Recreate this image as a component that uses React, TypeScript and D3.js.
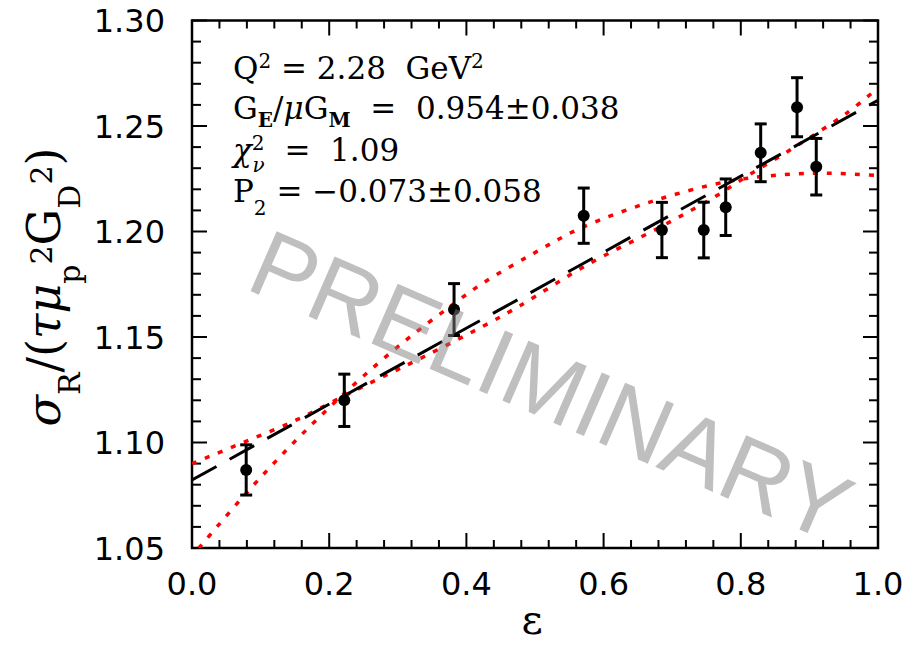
import React from "react"
import * as d3 from "d3"

// measured points (epsilon, reduced cross section, error)
const epsilon = [0.079, 0.222, 0.382, 0.571, 0.685, 0.746, 0.778, 0.829, 0.882, 0.910]
const sigmaRed = [1.087, 1.120, 1.163, 1.2075, 1.2007, 1.2007, 1.2115, 1.2373, 1.2589, 1.2307]
const sigmaErr = [0.0119, 0.0124, 0.0123, 0.0131, 0.0131, 0.0132, 0.0134, 0.0137, 0.0140, 0.0134]

// linear (Rosenbluth) fit, black dashed
const linEps = [0, 1]
const linVal = [1.0822, 1.2622]

// red dotted curves
const curveAEps = [0.010, 0.080, 0.143, 0.200, 0.250, 0.313, 0.376, 0.424, 0.500, 0.566, 0.672, 0.779, 0.857, 0.930, 1.000]
const curveAVal = [1.0500, 1.0763, 1.0982, 1.1165, 1.1315, 1.1488, 1.1644, 1.1755, 1.1900, 1.2015, 1.2144, 1.2236, 1.2268, 1.2276, 1.2265]
const curveBEps = [0.000, 0.077, 0.153, 0.211, 0.269, 0.337, 0.434, 0.478, 0.575, 0.682, 0.760, 0.809, 0.881, 0.954, 1.000]
const curveBVal = [1.0900, 1.1003, 1.1108, 1.1203, 1.1297, 1.1405, 1.1568, 1.1648, 1.1840, 1.2020, 1.2160, 1.2262, 1.2405, 1.2560, 1.2680]

const xMajor = [0, 0.2, 0.4, 0.6, 0.8, 1.0]
const xLabels = ["0.0", "0.2", "0.4", "0.6", "0.8", "1.0"]
const yMajor = [1.05, 1.10, 1.15, 1.20, 1.25, 1.30]
const yLabels = ["1.05", "1.10", "1.15", "1.20", "1.25", "1.30"]

const W = 916
const H = 645
const left = 192, right = 878, top = 20.5, bottom = 548

const x = d3.scaleLinear().domain([0, 1]).range([left, right])
const y = d3.scaleLinear().domain([1.05, 1.30]).range([bottom, top])

const xMinor = d3.range(0, 1.0001, 0.04).filter(v => Math.abs(v / 0.2 - Math.round(v / 0.2)) > 1e-6)
const yMinor = d3.range(1.05, 1.3001, 0.01).filter(v => Math.abs((v - 1.05) / 0.05 - Math.round((v - 1.05) / 0.05)) > 1e-6)

const serif = "DejaVu Serif"
const sans = "DejaVu Sans"

export default function App() {
  const line = d3.line<[number, number]>().x(d => x(d[0])).y(d => y(d[1]))
  const smooth = d3.line<[number, number]>().x(d => x(d[0])).y(d => y(d[1])).curve(d3.curveCatmullRom)

  const linPath = line(linEps.map((e, i) => [e, linVal[i]]))
  const pathA = smooth(curveAEps.map((e, i) => [e, curveAVal[i]]))
  const pathB = smooth(curveBEps.map((e, i) => [e, curveBVal[i]]))

  const major = 15, minor = 8
  const sub = 20

  return (
    <svg width={W} height={H} style={{ position: "absolute", left: 0, top: 0, background: "#fff" }}>
      <defs>
        <clipPath id="plot">
          <rect x={left} y={top} width={right - left} height={bottom - top} />
        </clipPath>
      </defs>

      {/* ticks */}
      <g stroke="#000" strokeWidth={2}>
        {xMajor.map(v => (
          <g key={"xM" + v}>
            <line x1={x(v)} x2={x(v)} y1={bottom} y2={bottom - major} />
            <line x1={x(v)} x2={x(v)} y1={top} y2={top + major} />
          </g>
        ))}
        {xMinor.map(v => (
          <g key={"xm" + v}>
            <line x1={x(v)} x2={x(v)} y1={bottom} y2={bottom - minor} />
            <line x1={x(v)} x2={x(v)} y1={top} y2={top + minor} />
          </g>
        ))}
        {yMajor.map(v => (
          <g key={"yM" + v}>
            <line x1={left} x2={left + major} y1={y(v)} y2={y(v)} />
            <line x1={right} x2={right - major} y1={y(v)} y2={y(v)} />
          </g>
        ))}
        {yMinor.map(v => (
          <g key={"ym" + v}>
            <line x1={left} x2={left + minor + 1} y1={y(v)} y2={y(v)} />
            <line x1={right} x2={right - minor - 1} y1={y(v)} y2={y(v)} />
          </g>
        ))}
      </g>
      <rect x={left} y={top} width={right - left} height={bottom - top} fill="none" stroke="#000" strokeWidth={2.5} />

      {/* tick labels */}
      <g fontFamily={sans} fontSize={32} fill="#000">
        {xMajor.map((v, i) => (
          <text key={"xl" + v} x={x(v)} y={595} textAnchor="middle">{xLabels[i]}</text>
        ))}
        {yMajor.map((v, i) => (
          <text key={"yl" + v} x={165} y={y(v) + 11.5} textAnchor="end">{yLabels[i]}</text>
        ))}
      </g>

      {/* axis titles */}
      <text x={532} y={634} textAnchor="middle" fontFamily={serif} fontSize={41}>ε</text>
      <text transform="translate(60,287) rotate(-90)" textAnchor="middle" fontFamily={serif} fontSize={46}>
        <tspan fontStyle="italic">σ</tspan>
        <tspan fontSize={30} dy={20}>R</tspan>
        <tspan dy={-20}>/(</tspan>
        <tspan fontStyle="italic">τμ</tspan>
        <tspan fontSize={30} dy={20}>p</tspan>
        <tspan fontSize={30} dy={-28}>2</tspan>
        <tspan dy={8}>G</tspan>
        <tspan fontSize={30} dy={20}>D</tspan>
        <tspan fontSize={30} dy={-28}>2</tspan>
        <tspan dy={8}>)</tspan>
      </text>

      {/* fits */}
      <g clipPath="url(#plot)" fill="none">
        <path d={pathA ?? ""} stroke="#ff0000" strokeWidth={3.5} strokeDasharray="5 9" />
        <path d={pathB ?? ""} stroke="#ff0000" strokeWidth={3.5} strokeDasharray="5 9" />
        <path d={linPath ?? ""} stroke="#000" strokeWidth={3} strokeDasharray="28 15" />
      </g>

      {/* data */}
      <g stroke="#000" strokeWidth={3}>
        {epsilon.map((e, i) => (
          <g key={"p" + i}>
            <line x1={x(e)} x2={x(e)} y1={y(sigmaRed[i] - sigmaErr[i])} y2={y(sigmaRed[i] + sigmaErr[i])} />
            <line x1={x(e) - 6} x2={x(e) + 6} y1={y(sigmaRed[i] - sigmaErr[i])} y2={y(sigmaRed[i] - sigmaErr[i])} />
            <line x1={x(e) - 6} x2={x(e) + 6} y1={y(sigmaRed[i] + sigmaErr[i])} y2={y(sigmaRed[i] + sigmaErr[i])} />
            <circle cx={x(e)} cy={y(sigmaRed[i])} r={6} fill="#000" stroke="none" />
          </g>
        ))}
      </g>

      {/* fit results */}
      <g fontFamily={serif} fontSize={31} fill="#000">
        <text x={233} y={79} xmlSpace="preserve">
          <tspan>Q</tspan>
          <tspan fontSize={sub} dy={-11}>2</tspan>
          <tspan dy={11}>{" = 2.28  GeV"}</tspan>
          <tspan fontSize={sub} dy={-11}>2</tspan>
        </text>
        <text x={233} y={119} xmlSpace="preserve">
          <tspan>G</tspan>
          <tspan fontSize={sub} fontWeight="bold" dy={8}>E</tspan>
          <tspan dy={-8}>/</tspan>
          <tspan fontStyle="italic">μ</tspan>
          <tspan>G</tspan>
          <tspan fontSize={sub} fontWeight="bold" dy={8}>M</tspan>
          <tspan dy={-8}>{"  =  0.954±0.038"}</tspan>
        </text>
        <text x={233} y={161} xmlSpace="preserve">
          <tspan fontStyle="italic">χ</tspan>
          <tspan fontSize={sub} dy={-11}>2</tspan>
          <tspan fontSize={sub} fontStyle="italic" dx={-12} dy={22}>ν</tspan>
          <tspan dy={-11}>{"  =  1.09"}</tspan>
        </text>
        <text x={233} y={202} xmlSpace="preserve">
          <tspan>P</tspan>
          <tspan fontSize={sub} dy={13}>2</tspan>
          <tspan dy={-13}>{" = −0.073±0.058"}</tspan>
        </text>
      </g>

      {/* watermark */}
      <text transform="translate(538,416) rotate(23.5)" textAnchor="middle" fontFamily="Liberation Sans"
        fontSize={95} fill="#808080" fillOpacity={0.5}>PRELIMINARY</text>
    </svg>
  )
}
